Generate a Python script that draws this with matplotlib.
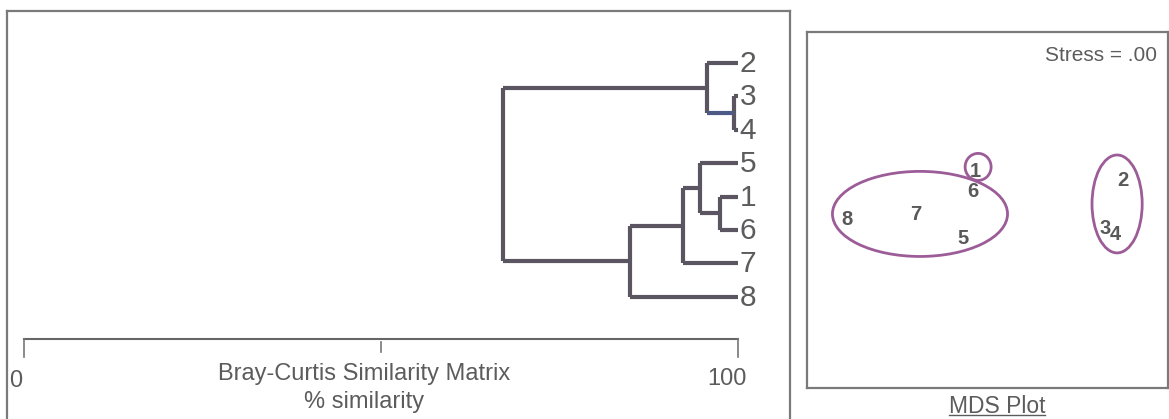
import matplotlib.pyplot as plt
from matplotlib.patches import Ellipse
from matplotlib.lines import Line2D

plt.rcParams['font.family'] = ['Liberation Sans', 'DejaVu Sans']

# dendrogram data (Bray-Curtis % similarity)
leaf_order = ['2', '3', '4', '5', '1', '6', '7', '8']
merge_left = ['3', '2', '1', '5', '7', '8', 'c234']
merge_right = ['4', 'c34', '6', 'c16', 'c516', 'c7516', 'c87516']
merge_name = ['c34', 'c234', 'c16', 'c516', 'c7516', 'c87516', 'root']
merge_sim = [99.5, 95.7, 97.5, 94.7, 92.3, 84.9, 67.1]
scale_ticks = [0, 50, 100]

# MDS ordination (arbitrary units)
mds_labels = ['1', '2', '3', '4', '5', '6', '7', '8']
mds_x = [46.5, 87.5, 82.5, 85.3, 43.2, 46.0, 30.2, 11.1]
mds_y = [60.7, 58.4, 44.9, 43.0, 42.1, 55.1, 48.6, 47.2]
# group ellipses: centre x, centre y, width, height
ell_cx = [31.3, 47.4, 85.9]
ell_cy = [48.9, 62.1, 51.7]
ell_w = [48.5, 7.2, 13.9]
ell_h = [23.9, 7.6, 27.5]
stress = '.00'

W, H = 1169, 419
fig = plt.figure(figsize=(W / 100, H / 100), dpi=100)

line_col = '#5a5560'
txt_col = '#5c5c5c'
box_col = '#7a7a7a'

# ---- dendrogram ----
ax1 = fig.add_axes([7 / W, 0, 783 / W, 408 / H])
px_per = 714 / 100.0
slot = 33.4
ax1.set_xlim((7 - 24) / px_per, (790 - 24) / px_per)
ax1.set_ylim((419 - 63) / slot, (11 - 63) / slot)
ax1.set_xticks([])
ax1.set_yticks([])
ax1.spines['bottom'].set_visible(False)
for s in ['left', 'top', 'right']:
    ax1.spines[s].set_color(box_col)
    ax1.spines[s].set_linewidth(1.6)

node_x = {}
node_y = {}
for i, lab in enumerate(leaf_order):
    node_x[lab] = 100.0
    node_y[lab] = i
    ax1.text(100.2, i + 0.03, lab, fontsize=21.5, color=txt_col, ha='left', va='center')

for a, b, name, sim in zip(merge_left, merge_right, merge_name, merge_sim):
    ya, yb = node_y[a], node_y[b]
    ax1.plot([sim, sim], [ya, yb], color=line_col, lw=3, solid_capstyle='butt')
    for c in (a, b):
        col = '#4d5a86' if c == 'c34' else line_col
        ax1.plot([sim, node_x[c]], [node_y[c], node_y[c]], color=col, lw=3,
                 solid_capstyle='butt')
    node_x[name] = sim
    node_y[name] = (ya + yb) / 2

# similarity scale bar
yb = (339 - 63) / slot
ax1.plot([scale_ticks[0], scale_ticks[-1]], [yb, yb], color='#666666', lw=1.5)
for t in scale_ticks:
    ln = 0.55 if t in (scale_ticks[0], scale_ticks[-1]) else 0.38
    st = 0 if ln > 0.5 else 0.08
    ax1.plot([t, t], [yb + st, yb + ln], color='#777777', lw=1.2)
ax1.text(-1.2, (381 - 63) / slot, '0', fontsize=17, color=txt_col,
         ha='center', va='center')
ax1.text(98.5, (379 - 63) / slot, '100', fontsize=17, color=txt_col,
         ha='center', va='center')
ax1.text(47.6, (374 - 63) / slot, 'Bray-Curtis Similarity Matrix', fontsize=17,
         color=txt_col, ha='center', va='center')
ax1.text(47.6, (402 - 63) / slot, '% similarity', fontsize=17,
         color=txt_col, ha='center', va='center')

# ---- MDS plot ----
ax2 = fig.add_axes([807 / W, (H - 388) / H, 361 / W, 356 / H])
ax2.set_xlim(0, 100)
ax2.set_ylim(0, 100)
ax2.set_xticks([])
ax2.set_yticks([])
for s in ax2.spines.values():
    s.set_color(box_col)
    s.set_linewidth(1.6)

for cx, cy, w, h in zip(ell_cx, ell_cy, ell_w, ell_h):
    ax2.add_patch(Ellipse((cx, cy), w, h, fill=False, ec='#9c5c98', lw=2))
for lab, x, y in zip(mds_labels, mds_x, mds_y):
    ax2.text(x, y, lab, fontsize=14.5, fontweight='bold', color='#595959',
             ha='center', va='center')
ax2.text(0.97, 0.935, 'Stress = ' + stress, transform=ax2.transAxes,
         fontsize=15, color=txt_col, ha='right', va='center')

t = fig.text(997 / W, (H - 406) / H, 'MDS Plot', fontsize=16.5, color=txt_col,
             ha='center', va='center')
fig.canvas.draw()
bb = t.get_window_extent().transformed(fig.transFigure.inverted())
fig.add_artist(Line2D([bb.x0, bb.x1], [bb.y0 + 0.006, bb.y0 + 0.006],
                      transform=fig.transFigure, color=txt_col, lw=1))

fig.savefig('out.png', dpi=100)
